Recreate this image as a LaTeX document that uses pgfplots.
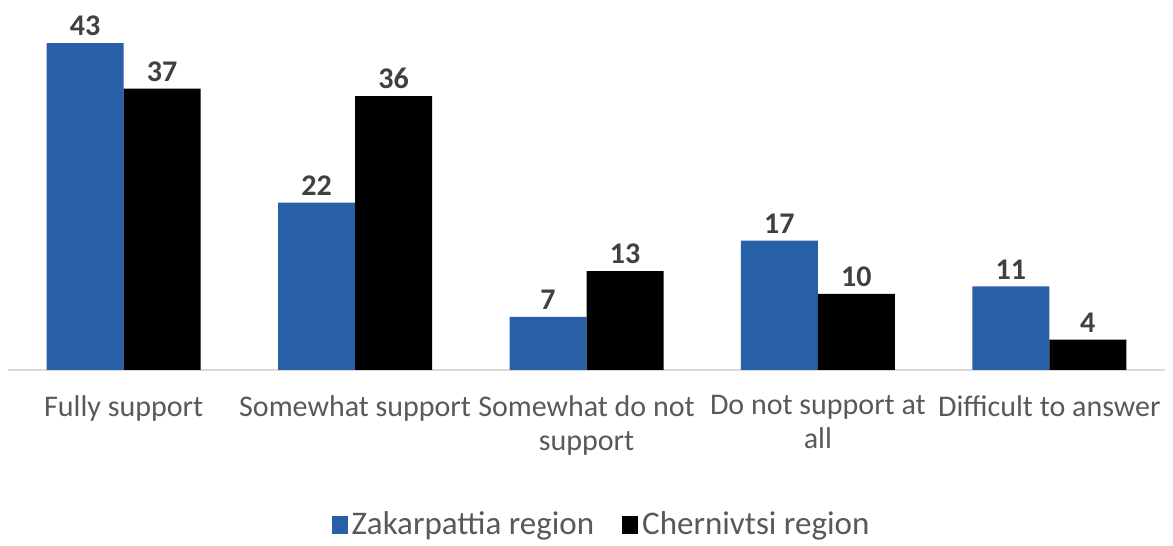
\documentclass[border=0pt]{standalone}
\usepackage{pgfplots}
\pgfplotsset{compat=1.18}
\usepackage{fontspec}
\setmainfont{Carlito}
\definecolor{zak}{HTML}{2860A8}
\definecolor{txt}{HTML}{595959}
\definecolor{lbl}{HTML}{404040}
\definecolor{base}{HTML}{D9D9D9}
\begin{document}
\begin{tikzpicture}
\begin{axis}[
  scale only axis,
  width=578.5pt, height=182.5pt,
  ybar=0pt, bar width=38.5pt,
  xmin=-0.5, xmax=4.5, ymin=0, ymax=48,
  axis x line*=bottom, axis y line=none,
  x axis line style={draw=base, line width=1pt, -},
  xtick=data, ytick=\empty,
  xtick style={draw=none},
  xticklabels={Fully support, Somewhat support, Somewhat do not\\support, Do not support at\\all, Difficult to answer},
  xticklabel style={align=center, font=\fontsize{15}{16.8}\selectfont, text=txt, yshift=-5pt},
  clip=false,
  /pgf/number format/assume math mode=true,
  nodes near coords,
  every node near coord/.append style={font=\fontsize{15}{16}\selectfont\bfseries, text=lbl},
  legend columns=2,
  legend style={at={(axis description cs:0.5,-0.4247)}, anchor=center, draw=none,
    xshift=8pt,
    font=\fontsize{16.5}{19}\selectfont, text=txt,
    /tikz/every even column/.append style={column sep=12pt}},
  legend image code/.code={\fill[#1] (0pt,-4.5pt) rectangle (8pt,4.5pt);},
]
\addplot[fill=zak, draw=none] coordinates {(0,43) (1,22) (2,7) (3,17) (4,11)};
\addplot[fill=black, draw=none] coordinates {(0,37) (1,36) (2,13) (3,10) (4,4)};
\legend{Zakarpattia region, Chernivtsi region}
\coordinate (sw) at (rel axis cs:0,0);
\coordinate (ne) at (rel axis cs:1,1);
\end{axis}
\useasboundingbox ([shift={(-4pt,-85.5pt)}]sw) rectangle ([shift={(4pt,2.5pt)}]ne);
\end{tikzpicture}
\end{document}
